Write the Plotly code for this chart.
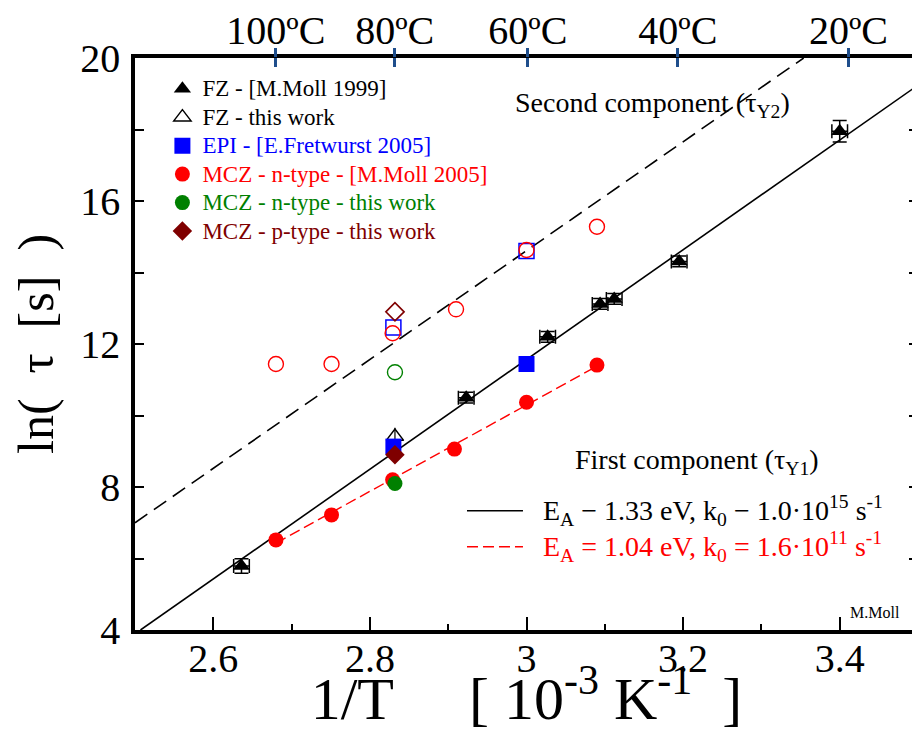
import plotly.graph_objects as go

# ---------------- data ----------------
# x = 1/T [1e-3 K^-1], y = ln(tau [s])
fz_moll_x = [2.636, 2.923, 3.027, 3.094, 3.112, 3.195, 3.400]
fz_moll_y = [5.79, 10.50, 12.20, 13.12, 13.26, 14.31, 17.95]
fz_moll_yerr = [0.20, 0.15, 0.15, 0.15, 0.15, 0.15, 0.30]
fz_moll_xerr = [0.010, 0.010, 0.010, 0.010, 0.010, 0.010, 0.010]

fz_this_x = [2.832]
fz_this_y = [9.41]
fz_this_yerr = [0.25]

epi_y1_x = [2.830, 3.000]
epi_y1_y = [9.13, 11.44]
epi_y2_x = [2.830, 3.000]
epi_y2_y = [12.46, 14.60]

mcz_n_moll_y1_x = [2.680, 2.751, 2.829, 2.908, 3.000, 3.090]
mcz_n_moll_y1_y = [6.52, 7.22, 8.20, 9.06, 10.37, 11.41]
mcz_n_moll_y2_x = [2.680, 2.751, 2.829, 2.910, 3.000, 3.090]
mcz_n_moll_y2_y = [11.44, 11.44, 12.30, 12.97, 14.63, 15.28]

mcz_n_this_y1_x = [2.832]
mcz_n_this_y1_y = [8.10]
mcz_n_this_y2_x = [2.832]
mcz_n_this_y2_y = [11.21]

mcz_p_this_y1_x = [2.832]
mcz_p_this_y1_y = [8.90]
mcz_p_this_y2_x = [2.832]
mcz_p_this_y2_y = [12.90]

# fit lines (end points)
fit1_x = [2.507, 3.500]          # E_A = 1.33 eV, first component
fit1_y = [4.00, 19.24]
fit2_x = [2.500, 3.354]          # second component
fit2_y = [7.00, 20.00]
fit_mcz_x = [2.680, 3.090]       # E_A = 1.04 eV
fit_mcz_y = [6.43, 11.38]

# axes
x_range = [2.5, 3.5]
y_range = [4, 20]
top_temps_c = [100, 80, 60, 40, 20]
top_tick_text = [f"{t}ºC" for t in top_temps_c]
top_tick_vals = [1000.0 / (t + 273.15) for t in top_temps_c]

FONT = "Liberation Serif"
RED = "#ff0000"
BLUE = "#0000ff"
GREEN = "#008000"
MAROON = "#7f0000"
TICKBLUE = "#1f4e8c"
EN = "\u2002"   # en space
EM = "\u2003"   # em space


def leg(text, color="black"):
    return f'<span style="color:{color};font-size:23px">{text}</span>'


fig = go.Figure()

# lines
fig.add_trace(go.Scatter(x=fit1_x, y=fit1_y, mode="lines",
                         line=dict(color="black", width=1.6),
                         showlegend=False, hoverinfo="skip"))
fig.add_trace(go.Scatter(x=fit2_x, y=fit2_y, mode="lines",
                         line=dict(color="black", width=1.6, dash="15px,8px"),
                         showlegend=False, hoverinfo="skip"))
fig.add_trace(go.Scatter(x=fit_mcz_x, y=fit_mcz_y, mode="lines",
                         line=dict(color=RED, width=1.4, dash="11px,5px"),
                         showlegend=False, hoverinfo="skip"))

# FZ - Moll 1999
fig.add_trace(go.Scatter(
    x=fz_moll_x, y=fz_moll_y, mode="markers", name=leg("FZ - [M.Moll 1999]"),
    marker=dict(symbol="triangle-up", size=15, color="black"),
    error_y=dict(type="data", array=fz_moll_yerr, color="black", thickness=1.5, width=7),
    error_x=dict(type="data", array=fz_moll_xerr, color="black", thickness=1.5, width=7),
))
# FZ - this work
fig.add_trace(go.Scatter(
    x=fz_this_x, y=fz_this_y, mode="markers", name=leg("FZ - this work"),
    marker=dict(symbol="triangle-up-open", size=15, color="black", line=dict(width=1.5)),
    error_y=dict(type="data", array=fz_this_yerr, color="black", thickness=1.2, width=0),
))
# EPI
fig.add_trace(go.Scatter(
    x=epi_y1_x, y=epi_y1_y, mode="markers",
    name=leg("EPI - [E.Fretwurst 2005]", BLUE),
    marker=dict(symbol="square", size=16, color=BLUE),
))
fig.add_trace(go.Scatter(
    x=epi_y2_x, y=epi_y2_y, mode="markers", showlegend=False,
    marker=dict(symbol="square-open", size=15, color=BLUE, line=dict(width=1.5)),
))
# MCZ n-type Moll 2005
fig.add_trace(go.Scatter(
    x=mcz_n_moll_y1_x, y=mcz_n_moll_y1_y, mode="markers",
    name=leg("MCZ - n-type - [M.Moll 2005]", RED),
    marker=dict(symbol="circle", size=15, color=RED),
))
fig.add_trace(go.Scatter(
    x=mcz_n_moll_y2_x, y=mcz_n_moll_y2_y, mode="markers", showlegend=False,
    marker=dict(symbol="circle-open", size=15, color=RED, line=dict(width=1.4)),
))
# MCZ n-type this work
fig.add_trace(go.Scatter(
    x=mcz_n_this_y1_x, y=mcz_n_this_y1_y, mode="markers",
    name=leg("MCZ - n-type - this work", GREEN),
    marker=dict(symbol="circle", size=15, color=GREEN),
))
fig.add_trace(go.Scatter(
    x=mcz_n_this_y2_x, y=mcz_n_this_y2_y, mode="markers", showlegend=False,
    marker=dict(symbol="circle-open", size=15, color=GREEN, line=dict(width=1.4)),
))
# MCZ p-type this work
fig.add_trace(go.Scatter(
    x=mcz_p_this_y1_x, y=mcz_p_this_y1_y, mode="markers",
    name=leg("MCZ - p-type - this work", MAROON),
    marker=dict(symbol="diamond", size=15, color=MAROON),
))
fig.add_trace(go.Scatter(
    x=mcz_p_this_y2_x, y=mcz_p_this_y2_y, mode="markers", showlegend=False,
    marker=dict(symbol="diamond-open", size=14, color=MAROON, line=dict(width=1.6)),
))

# carriers for the temperature axis (top)
fig.add_trace(go.Scatter(x=top_tick_vals, y=[None] * len(top_tick_vals), xaxis="x2",
                         mode="markers", showlegend=False, hoverinfo="skip"))
fig.add_trace(go.Scatter(x=top_tick_vals, y=[None] * len(top_tick_vals), xaxis="x3",
                         mode="markers", showlegend=False, hoverinfo="skip"))

# the page body adds an 8px offset; the figure is sized so the plot area
# lands on the same pixels as the reference (x 135-918, y 58-630)
fig.update_layout(
    width=912, height=724,
    margin=dict(l=127, r=2, t=50, b=102, autoexpand=False),
    paper_bgcolor="white", plot_bgcolor="white",
    font=dict(family=FONT, color="black", size=20),
    showlegend=True,
    legend=dict(x=0.035, y=0.98, xanchor="left", yanchor="top",
                bgcolor="rgba(0,0,0,0)", borderwidth=0,
                font=dict(family=FONT, size=19.6, color="black"),
                itemsizing="trace"),
    xaxis=dict(range=x_range, showgrid=False, zeroline=False, automargin=False,
               showline=True, linecolor="black", linewidth=3.5, mirror=True,
               tickmode="linear", tick0=2.6, dtick=0.2,
               ticks="inside", ticklen=13, tickwidth=1.8, tickcolor="black",
               minor=dict(dtick=0.1, tick0=2.5, ticks="inside", ticklen=6,
                          tickwidth=1.8, tickcolor="black", showgrid=False),
               tickfont=dict(family=FONT, size=40), ticklabelstandoff=-10,
               title=dict(text=f"1/T{EM} [ 10<sup>-3</sup> K<sup>-1</sup>{EN}]",
                          font=dict(family=FONT, size=60), standoff=4)),
    xaxis2=dict(range=x_range, overlaying="x", side="top", anchor="y", automargin=False,
                showgrid=False, zeroline=False, showline=False,
                tickmode="array", tickvals=top_tick_vals, ticktext=top_tick_text,
                ticks="outside", ticklen=9, tickwidth=2.5, tickcolor=TICKBLUE,
                tickfont=dict(family=FONT, size=40), ticklabelstandoff=-12),
    xaxis3=dict(range=x_range, overlaying="x", side="top", anchor="y", automargin=False,
                showgrid=False, zeroline=False, showline=False,
                tickmode="array", tickvals=top_tick_vals, showticklabels=False,
                ticks="inside", ticklen=9, tickwidth=2.5, tickcolor=TICKBLUE),
    yaxis=dict(range=y_range, showgrid=False, zeroline=False, automargin=False,
               showline=True, linecolor="black", linewidth=3.5, mirror="ticks",
               tickmode="linear", tick0=4, dtick=4,
               ticks="inside", ticklen=9, tickwidth=1.8, tickcolor="black",
               minor=dict(dtick=2, tick0=4, ticks="inside", ticklen=9,
                          tickwidth=1.8, tickcolor="black", showgrid=False),
               tickfont=dict(family=FONT, size=40), ticklabelstandoff=3,
               title=dict(text=f"ln({EN}τ{EN}[s]{EN})", font=dict(family=FONT, size=50),
                          standoff=12)),
)

# fit legend (lower right) and labels
fig.add_shape(type="line", xref="paper", yref="paper", x0=0.424, x1=0.4955, y0=0.2086, y1=0.2086,
              line=dict(color="black", width=1.6))
fig.add_shape(type="line", xref="paper", yref="paper", x0=0.424, x1=0.4955, y0=0.1456, y1=0.1456,
              line=dict(color=RED, width=1.4, dash="11px,5px"))
fig.add_annotation(xref="paper", yref="paper", x=0.519, y=0.2086, xanchor="left", yanchor="middle",
                   showarrow=False, font=dict(family=FONT, size=28, color="black"),
                   text="E<sub>A</sub> − 1.33 eV, k<sub>0</sub> − 1.0·10<sup>15</sup> s<sup>-1</sup>")
fig.add_annotation(xref="paper", yref="paper", x=0.519, y=0.1456, xanchor="left", yanchor="middle",
                   showarrow=False, font=dict(family=FONT, size=28, color=RED),
                   text="E<sub>A</sub> = 1.04 eV, k<sub>0</sub> = 1.6·10<sup>11</sup> s<sup>-1</sup>")
fig.add_annotation(xref="paper", yref="paper", x=0.718, y=0.294, xanchor="center", yanchor="middle",
                   showarrow=False, font=dict(family=FONT, size=28, color="black"),
                   text="First component (τ<sub>Y1</sub>)")
fig.add_annotation(xref="paper", yref="paper", x=0.839, y=0.918, xanchor="right", yanchor="middle",
                   showarrow=False, font=dict(family=FONT, size=28, color="black"),
                   text="Second component (τ<sub>Y2</sub>)")
fig.add_annotation(xref="paper", yref="paper", x=0.91, y=0.03, xanchor="left", yanchor="middle",
                   showarrow=False, font=dict(family=FONT, size=16, color="black"),
                   text="M.Moll")

fig.write_html("out.html")
